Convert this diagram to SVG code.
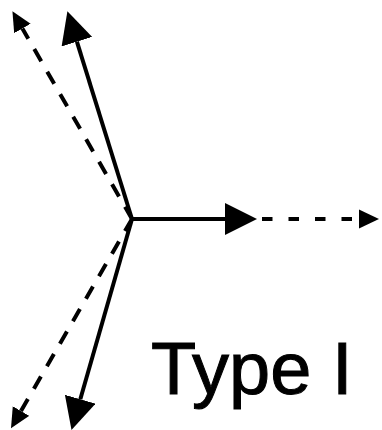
<svg xmlns="http://www.w3.org/2000/svg" width="382" height="430" viewBox="0 0 382 430">
<style>
.solid{stroke:#000;stroke-width:4;fill:none}
.dash{stroke:#000;stroke-width:4;fill:none;stroke-dasharray:14 12}
.dashh{stroke:#000;stroke-width:4;fill:none;stroke-dasharray:10.5 16}
.lbl{font-family:"Liberation Sans",Arial,sans-serif;font-size:74px;fill:#000;stroke:#000;stroke-width:1}
</style>
<defs>
<marker id="big" markerUnits="userSpaceOnUse" markerWidth="32" markerHeight="32" viewBox="0 -15 30 30" refX="0" refY="0" orient="auto">
<path d="M0,-15 L30,0 L0,15 Z" fill="#000"/>
</marker>
<marker id="small" markerUnits="userSpaceOnUse" markerWidth="20" markerHeight="20" viewBox="0 -9 19 18" refX="0" refY="0" orient="auto">
<path d="M0,-9 L19,0 L0,9 Z" fill="#000"/>
</marker>
</defs>
<rect width="382" height="430" fill="#fff"/>
<g id="connectors">
<line class="dash" x1="132" y1="219" x2="22.4" y2="28.5" marker-end="url(#small)"/>
<line class="dash" x1="132" y1="219" x2="21" y2="411" marker-end="url(#small)"/>
<line class="dashh" x1="262" y1="219" x2="359" y2="219" marker-end="url(#small)"/>
<line class="solid" x1="132" y1="219" x2="76.9" y2="41.7" marker-end="url(#big)"/>
<line class="solid" x1="132" y1="219" x2="225" y2="219" marker-end="url(#big)"/>
<line class="solid" x1="132" y1="219" x2="80.3" y2="399.2" marker-end="url(#big)"/>
</g>
<g id="label">
<text class="lbl" x="151" y="394">Type I</text>
</g>
</svg>
